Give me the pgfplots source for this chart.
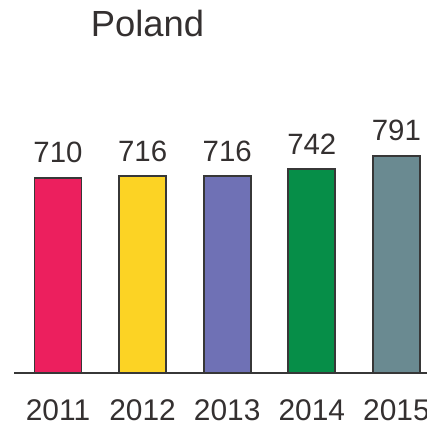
\documentclass[border=0pt]{standalone}
\usepackage{pgfplots}
\pgfplotsset{compat=1.18}
\usepackage{fontspec}
\setmainfont{Liberation Sans}
\definecolor{cA}{RGB}{236,31,94}
\definecolor{cB}{RGB}{252,211,36}
\definecolor{cC}{RGB}{111,113,181}
\definecolor{cD}{RGB}{6,142,72}
\definecolor{cE}{RGB}{106,138,145}
\definecolor{txt}{RGB}{52,48,48}
\definecolor{edge}{RGB}{55,55,55}
\begin{document}
\begin{tikzpicture}
\begin{axis}[
  anchor=origin, at={(0,0)},
  x=84.6bp, y=0.2748bp,
  xmin=-0.52, xmax=5, ymin=0, ymax=1300,
  axis x line=bottom, axis y line=none,
  axis line style={-, draw=edge, line width=1.8bp},
  xtick={0,1,2,3,4}, xticklabels={2011,2012,2013,2014,2015},
  major tick length=0pt,
  xticklabel style={font=\fontsize{30}{32}\selectfont, text=txt, anchor=north, inner sep=0pt, yshift=-26bp},
  /pgf/number format/assume math mode=true,
  ybar, bar width=47bp, bar shift=0pt,
  nodes near coords,
  every node near coord/.append style={font=\fontsize{29.5}{31}\selectfont, text=txt, anchor=south, inner sep=0pt, yshift=14bp},
  clip=false,
]
\addplot[fill=cA, draw=edge, line width=1.8bp] coordinates {(0,710)};
\addplot[fill=cB, draw=edge, line width=1.8bp] coordinates {(1,716)};
\addplot[fill=cC, draw=edge, line width=1.8bp] coordinates {(2,716)};
\addplot[fill=cD, draw=edge, line width=1.8bp] coordinates {(3,742)};
\addplot[fill=cE, draw=edge, line width=1.8bp] coordinates {(4,791)};
\end{axis}
\node[font=\fontsize{36.5}{38}\selectfont, text=txt, inner sep=0pt] at (89.5bp,349bp) {Poland};
\pgfresetboundingbox
\path[use as bounding box] (-58bp,-52bp) rectangle (369bp,373bp);
\end{tikzpicture}
\end{document}
